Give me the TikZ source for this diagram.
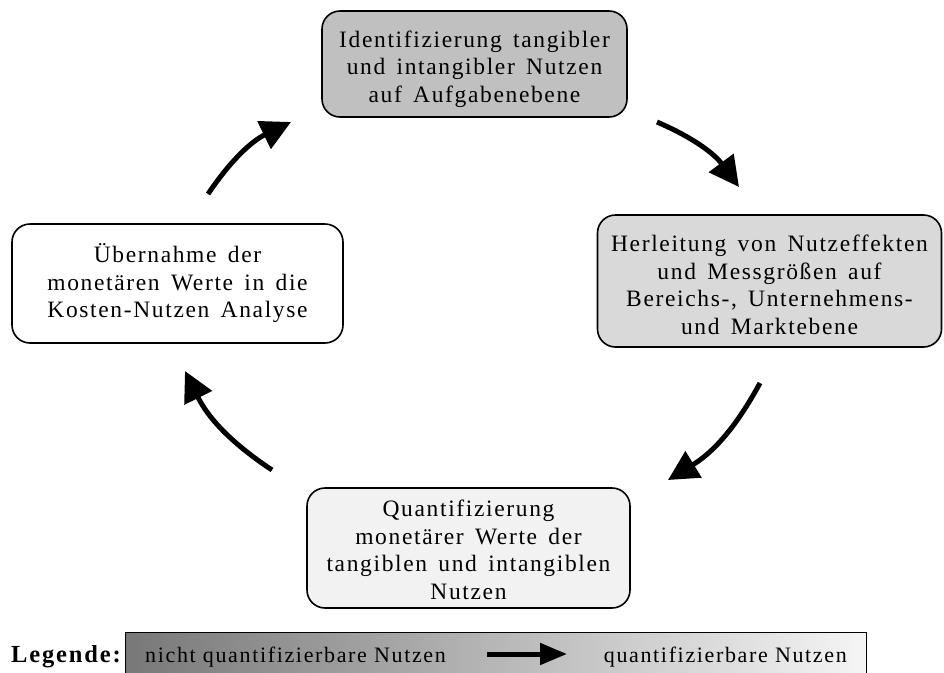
\documentclass[tikz,border=0pt]{standalone}
\usepackage{fontspec}
\setmainfont{Liberation Serif}
\newfontfamily\boxfont{Liberation Serif}[LetterSpace=7,WordSpace=1.5]
\newfontfamily\legfont{Liberation Serif}[LetterSpace=7.5]
\usetikzlibrary{arrows.meta,shadings,calc}
\begin{document}
\begin{tikzpicture}[x=1pt,y=-1pt,
  stepbox/.style={draw=black,line width=1.6pt,rounded corners=18pt,inner sep=0pt},
  boxtext/.style={align=center,font=\boxfont\fontsize{23.5}{27.5}\selectfont,inner sep=0pt},
  legtext/.style={font=\legfont\fontsize{22}{26}\selectfont,inner sep=0pt,anchor=base west},
  cyc/.style={line width=5pt,-{Triangle[length=30pt,width=30pt]},bend left=15}]
\useasboundingbox (0,0) rectangle (944,672);
\node[stepbox,fill={rgb,255:red,192;green,192;blue,192},minimum width=305pt,minimum height=106pt] (a) at (474.5,64) {};
\node[boxtext] (at) at ($(a.center)+(0,5)$) {Identifizierung tangibler\\und intangibler Nutzen\\auf Aufgabenebene};
\node[stepbox,fill={rgb,255:red,217;green,217;blue,217},minimum width=344pt,minimum height=132pt] (b) at (769.5,281) {};
\node[boxtext] (bt) at ($(b.center)+(0,4)$) {Herleitung von Nutzeffekten\\und Messgrößen auf\\Bereichs-, Unternehmens-\\und Marktebene};
\node[stepbox,fill=white,minimum width=331pt,minimum height=119pt] (c) at (177.5,283.5) {};
\node[boxtext] (ct) at (c.center) {Übernahme der\\monetären Werte in die\\Kosten-Nutzen Analyse};
\node[stepbox,fill={rgb,255:red,242;green,242;blue,242},minimum width=323pt,minimum height=120pt] (d) at (468.5,548) {};
\node[boxtext] (dt) at ($(d.center)+(0,2)$) {Quantifizierung\\monetärer Werte der\\tangiblen und intangiblen\\Nutzen};
\coordinate (s1) at (208,194); \coordinate (e1) at (291,122);
\coordinate (s2) at (657,122); \coordinate (e2) at (739,187);
\coordinate (s3) at (760,383); \coordinate (e3) at (668,480);
\coordinate (s4) at (272,470); \coordinate (e4) at (185,371);
\draw[cyc] (s1) to (e1);
\draw[cyc] (s2) to (e2);
\draw[cyc] (s3) to (e3);
\draw[cyc] (s4) to (e4);
\shade[left color={rgb,255:red,120;green,120;blue,120},right color={rgb,255:red,245;green,245;blue,245},draw=black,line width=1pt]
  (125,632) rectangle (866,674);
\node[legtext,font=\legfont\bfseries\fontsize{24.5}{28}\selectfont] (lg) at (11,662) {Legende:};
\node[legtext] (l1) at (145,662) {nicht quantifizierbare Nutzen};
\node[legtext,anchor=base east] (l2) at (847,662) {quantifizierbare Nutzen};
\coordinate (la) at (487,654); \coordinate (lb) at (567,654);
\draw[line width=5pt,-{Triangle[length=27pt,width=21pt]}] (la) -- (lb);
\end{tikzpicture}
\end{document}
